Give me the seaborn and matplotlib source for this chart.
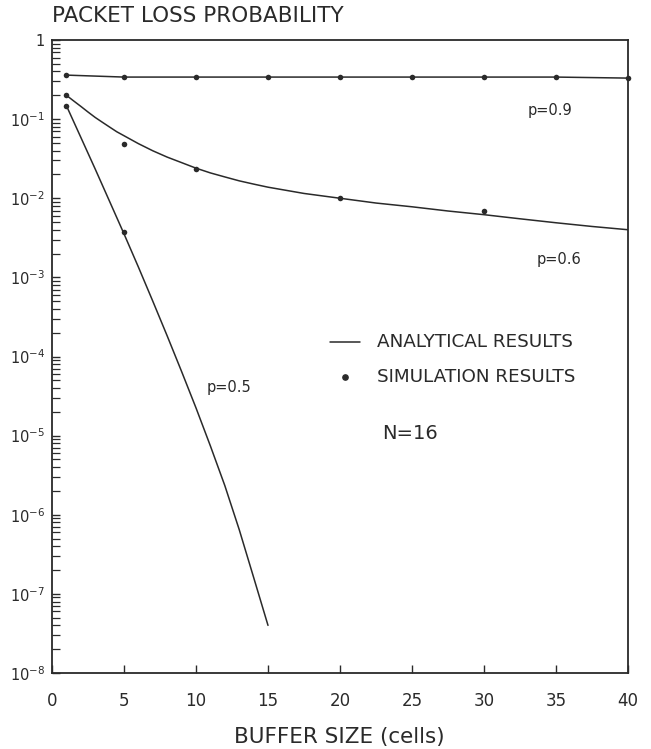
import matplotlib
matplotlib.use("Agg")
import matplotlib.pyplot as plt
import seaborn as sns
import pandas as pd
import numpy as np
from matplotlib.ticker import LogLocator, NullFormatter, FixedLocator

# ---- data ----
x_p09_line = [1, 5, 10, 15, 20, 25, 30, 35, 40]
y_p09_line = [0.36, 0.34, 0.34, 0.34, 0.34, 0.34, 0.34, 0.34, 0.33]
x_p09_sim = [1, 5, 10, 15, 20, 25, 30, 35, 40]
y_p09_sim = [0.36, 0.34, 0.34, 0.34, 0.34, 0.34, 0.34, 0.34, 0.33]

x_p06_line = [1, 1.5, 2, 2.5, 3, 3.5, 4, 4.5, 5, 6, 7, 8, 9, 10, 11, 12, 13, 14,
              15, 17.5, 20, 22.5, 25, 27.5, 30, 32.5, 35, 37.5, 40]
y_p06_line = [0.200, 0.170, 0.145, 0.123, 0.105, 0.0912, 0.0794, 0.0692, 0.0617,
              0.0490, 0.0398, 0.0331, 0.0282, 0.0240, 0.0209, 0.0186, 0.0166,
              0.0151, 0.0138, 0.0115, 0.0100, 0.0087, 0.0078, 0.0069, 0.0062,
              0.0055, 0.0049, 0.0044, 0.0040]
x_p06_sim = [1, 5, 10, 20, 30]
y_p06_sim = [0.20, 0.048, 0.0235, 0.010, 0.0069]

x_p05_line = [1, 2, 3, 4, 5, 6, 7, 8, 9, 10, 11, 12, 13, 14, 15]
y_p05_line = [0.148, 0.0589, 0.0234, 0.00912, 0.00355, 1.35e-3, 5.0e-4, 1.82e-4,
              6.46e-5, 2.24e-5, 7.4e-6, 2.34e-6, 6.5e-7, 1.62e-7, 4.0e-8]
x_p05_sim = [1, 5]
y_p05_sim = [0.148, 0.0037]

x_ticks = [0, 5, 10, 15, 20, 25, 30, 35, 40]
y_ticks = [1, 1e-1, 1e-2, 1e-3, 1e-4, 1e-5, 1e-6, 1e-7, 1e-8]
y_tick_labels = ["1", r"$\mathit{10}^{-1}$", r"$\mathit{10}^{-2}$", r"$\mathit{10}^{-3}$",
                 r"$\mathit{10}^{-4}$", r"$\mathit{10}^{-5}$", r"$\mathit{10}^{-6}$",
                 r"$\mathit{10}^{-7}$", r"$\mathit{10}^{-8}$"]

sns.set_style("ticks")
plt.rcParams["font.family"] = ["DejaVu Sans"]
INK = "#2a2a2a"

line_df = pd.concat([
    pd.DataFrame({"x": x_p09_line, "y": y_p09_line, "p": "0.9"}),
    pd.DataFrame({"x": x_p06_line, "y": y_p06_line, "p": "0.6"}),
    pd.DataFrame({"x": x_p05_line, "y": y_p05_line, "p": "0.5"}),
])
sim_df = pd.concat([
    pd.DataFrame({"x": x_p09_sim, "y": y_p09_sim, "p": "0.9"}),
    pd.DataFrame({"x": x_p06_sim, "y": y_p06_sim, "p": "0.6"}),
    pd.DataFrame({"x": x_p05_sim, "y": y_p05_sim, "p": "0.5"}),
])

fig = plt.figure(figsize=(6.51, 7.49), dpi=100)
ax = fig.add_axes([52 / 651, 1 - 673 / 749, 576 / 651, 633 / 749])

for p, d in line_df.groupby("p"):
    sns.lineplot(data=d, x="x", y="y", ax=ax, color=INK, linewidth=1.1,
                 estimator=None, sort=True, legend=False)
sns.scatterplot(data=sim_df, x="x", y="y", ax=ax, color=INK, marker="o",
                s=16, linewidth=0, legend=False, zorder=5, clip_on=False)

ax.set_yscale("log")
ax.set_xlim(0, 40)
ax.set_ylim(1e-8, 1)
ax.yaxis.set_major_locator(FixedLocator(y_ticks))
ax.set_yticks(y_ticks)
ax.set_yticklabels(y_tick_labels, fontsize=10.5, color=INK)
ax.yaxis.set_minor_locator(LogLocator(base=10, subs=np.arange(2, 10), numticks=20))
ax.yaxis.set_minor_formatter(NullFormatter())
ax.set_xticks(x_ticks)
ax.set_xticklabels([str(v) for v in x_ticks], fontsize=12, color=INK)
ax.tick_params(axis="both", which="major", direction="in", length=6, width=1.0,
               color=INK)
ax.tick_params(axis="x", which="major", pad=14)
ax.tick_params(axis="y", which="minor", direction="in", length=6, width=0.9,
               color=INK)
ax.tick_params(axis="y", which="major", pad=5)
for s in ax.spines.values():
    s.set_color(INK)
    s.set_linewidth(1.3)
ax.set_xlabel("")
ax.set_ylabel("")

fig.text(52 / 651, 1 - 16 / 749, "PACKET LOSS PROBABILITY", fontsize=15.5,
         color=INK, ha="left", va="center")
fig.text(339 / 651, 1 - 737 / 749, "BUFFER SIZE (cells)", fontsize=15.5,
         color=INK, ha="center", va="center")

ax.text(34.6, 10 ** -0.885, "p=0.9", fontsize=10.5, color=INK, ha="center", va="center")
ax.text(35.2, 10 ** -2.78, "p=0.6", fontsize=10.5, color=INK, ha="center", va="center")
ax.text(12.3, 10 ** -4.39, "p=0.5", fontsize=10.5, color=INK, ha="center", va="center")

# legend
fig.text(377 / 651, 1 - 342 / 749, "ANALYTICAL RESULTS", fontsize=13.2, color=INK,
         ha="left", va="center")
fig.text(377 / 651, 1 - 377 / 749, "SIMULATION RESULTS", fontsize=13.2, color=INK,
         ha="left", va="center")
fig.lines.append(plt.Line2D([330 / 651, 360 / 651], [1 - 342 / 749, 1 - 342 / 749],
                            transform=fig.transFigure, color=INK, linewidth=1.1))
fig.lines.append(plt.Line2D([345 / 651], [1 - 377 / 749], transform=fig.transFigure,
                            color=INK, marker="o", markersize=3.8, linestyle="none"))
fig.text(382 / 651, 1 - 433 / 749, "N=16", fontsize=14, color=INK, ha="left", va="center")

fig.savefig("out.png", dpi=100, facecolor="white")
